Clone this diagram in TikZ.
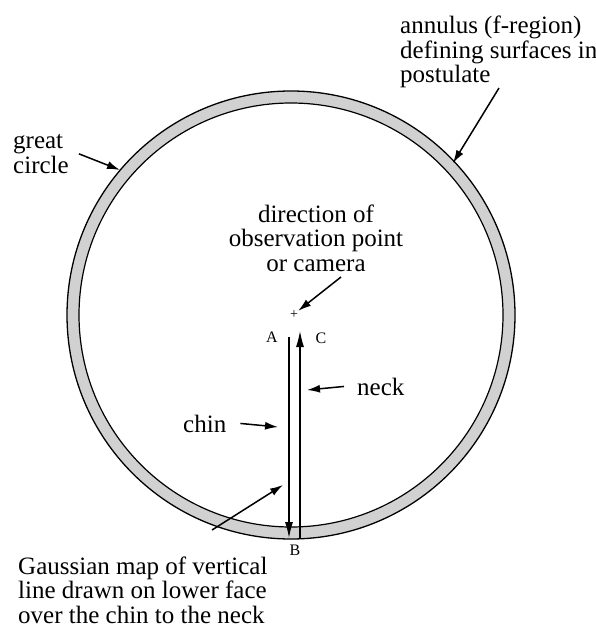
\documentclass[tikz,border=0pt]{standalone}
\usepackage{fontspec}
\setmainfont{Liberation Serif}
\usetikzlibrary{arrows.meta, positioning}

\begin{document}
\begin{tikzpicture}[x=1pt, y=-1pt, font=\fontsize{25}{24.5}\selectfont,
  seta/.style={-{Latex[length=13pt,width=8pt]}, line width=1.5pt},
  linha/.style={-{Latex[length=16pt,width=8pt]}, line width=1.1pt},
  rotulo/.style={align=left, inner sep=0pt, anchor=base west},
  letra/.style={inner sep=0pt, font=\fontsize{16}{16}\selectfont}]
  \definecolor{anel}{gray}{0.82}
  \useasboundingbox (0,0) rectangle (596,631);
  % --- esfera: circulo maximo e anel (f-region) ---
  \coordinate (centro) at (291,315);
  \fill[anel, even odd rule] (centro) circle (224) circle (212);
  \draw[line width=1.3pt] (centro) circle (224);
  \draw[line width=1.2pt] (centro) circle (212);
  % --- ponto de observacao ---
  \node[inner sep=0pt, font=\fontsize{14}{14}\selectfont] (obs) at (294,315) {+};
  % --- mapa gaussiano: A -> B -> C ---
  \coordinate (Atopo) at (289,337);
  \coordinate (Bfundo) at (289,538);
  \coordinate (Cfundo) at (300,538);
  \coordinate (Ctopo) at (300,331);
  \draw[linha] (Atopo) -- (Bfundo);
  \draw[linha] (Cfundo) -- (Ctopo);
  \node[letra] (A) at (272,337) {A};
  \node[letra] (B) at (295,550) {B};
  \node[letra] (C) at (321,338) {C};
  % --- rotulos (base = ultima linha) ---
  \node[rotulo] (anulo) at (400,83)
    {annulus (f-region)\\defining surfaces in\\postulate};
  \node[rotulo] (grande) at (13,173) {great\\circle};
  \node[align=center, inner sep=0pt, anchor=base] (direcao) at (316,271)
    {direction of\\observation point\\or camera};
  \node[rotulo] (pescoco) at (357,395) {neck};
  \node[rotulo] (queixo) at (183,432) {chin};
  \node[rotulo] (gauss) at (18,623)
    {Gaussian map of vertical\\line drawn on lower face\\over the chin to the neck};
  % --- setas ---
  \coordinate (anuloPonta) at (453,163);
  \coordinate (grandePonta) at (120,170);
  \coordinate (direcaoCauda) at (341,277);
  \coordinate (pescocoPonta) at (307,390);
  \coordinate (queixoPonta) at (278,427);
  \coordinate (gaussCauda) at (212,530);
  \coordinate (gaussPonta) at (283,485);
  \draw[seta] ([shift={(99,5)}]anulo.base west) -- (anuloPonta);
  \draw[seta] ([xshift=10pt]grande.east) -- (grandePonta);
  \draw[seta] (direcaoCauda) -- (obs.north east);
  \draw[seta] ([xshift=-13pt]pescoco.west) -- (pescocoPonta);
  \draw[seta] ([xshift=14pt]queixo.east) -- (queixoPonta);
  \draw[seta] (gaussCauda) -- (gaussPonta);
\end{tikzpicture}
\end{document}
